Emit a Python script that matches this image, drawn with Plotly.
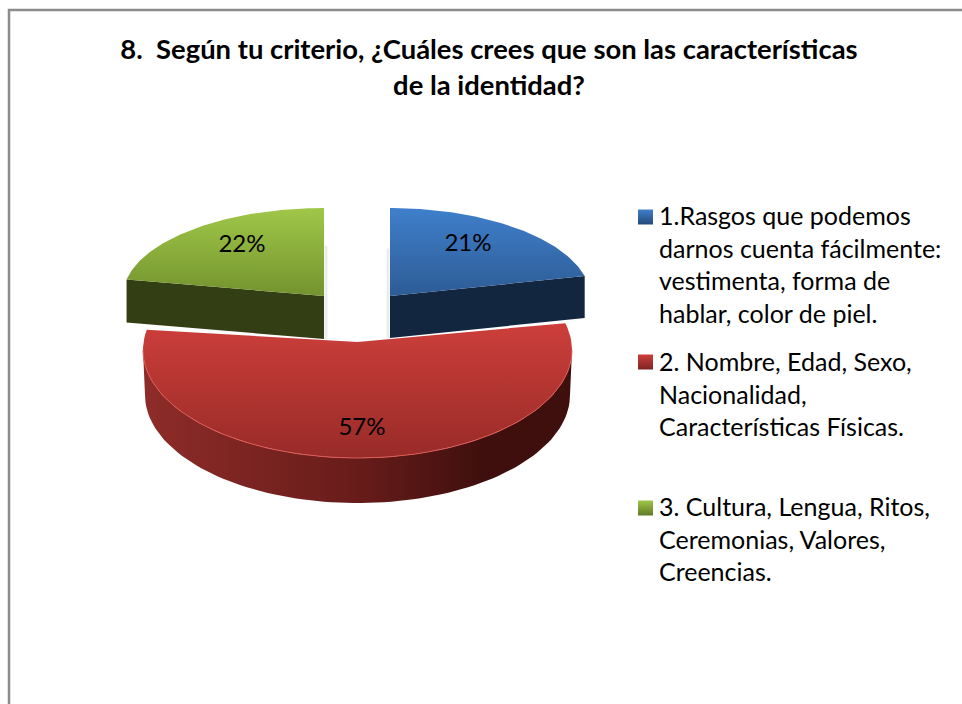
import numpy as np
import plotly.graph_objects as go

W = 962
H = 704
FONT = "Lato"

title_text = "8.  Según tu criterio, ¿Cuáles crees que son las características<br>de la identidad?"
categories = [
    "1.Rasgos que podemos<br>darnos cuenta fácilmente:<br>vestimenta, forma de<br>hablar, color de piel.",
    "2. Nombre, Edad, Sexo,<br>Nacionalidad,<br>Características Físicas.",
    "3. Cultura, Lengua, Ritos,<br>Ceremonias, Valores,<br>Creencias.",
]
values = [21, 57, 22]

# pixel geometry of each exploded slice (top face ellipse, apex, thickness)
ell_cx = [390, 357.5, 324]
ell_cy = [298.5, 350, 296]
ell_a = [201, 214.5, 201]
ell_b = [90.5, 108, 88]
apex_x = [390, 357.5, 324]
apex_y = [296, 342, 296]
depth = [42, 42, 43]

top_colors = [("#3f7fcb", "#2d5c96"), ("#ce3f3b", "#982b28"), ("#a0c748", "#73932e")]
side_colors = ["#132640", "#000000", "#343e14"]
wall_colors = ["#8e2c29", "#681c1a", "#3e0f0d"]
rim_color = "#dc5a55"
label_pos = [(468, 245), (362, 429), (242, 246)]
swatch_y = [217, 362, 508]
swatch_dark = ["#24497a", "#7d2321", "#5f7a26"]
legend_y = [199, 345, 490]

# slice angles, clockwise from 12 o'clock
total = sum(values)
ends = np.cumsum(values) / total * 2 * np.pi
starts = np.concatenate([[0], ends[:-1]])


def arc(i, t0, t1, dy=0.0, a=None, b=None):
    t = np.linspace(t0, t1, 90)
    a = ell_a[i] if a is None else a
    b = ell_b[i] if b is None else b
    return ell_cx[i] + a * np.sin(t), ell_cy[i] + dy - b * np.cos(t)


def vgrad(c0, c1, y0, y1):
    return dict(type="vertical", colorscale=[[0, c0], [1, c1]], start=y0, stop=y1)


def poly(x, y, **kw):
    return go.Scatter(x=x, y=y, mode="lines", fill="toself", line=dict(width=0),
                      hoverinfo="skip", showlegend=False, **kw)


fig = go.Figure()

# red slice: outer wall then top face
x1, y1 = arc(1, np.pi / 2, 3 * np.pi / 2)
x2, y2 = arc(1, np.pi / 2, 3 * np.pi / 2, dy=depth[1] + 3, a=ell_a[1] - 2, b=ell_b[1])
fig.add_trace(poly(np.r_[x1, x2[::-1]], np.r_[y1, y2[::-1]],
                   fillgradient=dict(type="horizontal",
                                     colorscale=[[0, wall_colors[0]], [0.5, wall_colors[1]], [0.8, wall_colors[2]], [1, wall_colors[2]]],
                                     start=143, stop=572)))
x, y = arc(1, starts[1], ends[1])
fig.add_trace(poly(np.r_[apex_x[1], x, apex_x[1]], np.r_[apex_y[1], y, apex_y[1]],
                   fillgradient=vgrad(top_colors[1][0], top_colors[1][1], 320, 458)))
x, y = arc(1, np.pi / 2, 3 * np.pi / 2)
fig.add_trace(go.Scatter(x=x, y=y, mode="lines", line=dict(color=rim_color, width=1),
                         hoverinfo="skip", showlegend=False))

# blue and green slices: soft shadow, cut face, top face
for i, edge, side in [(0, ends[0], -1), (2, starts[2], 1)]:
    fig.add_trace(go.Scatter(x=[apex_x[i] + side * 2] * 2, y=[ell_cy[i] - 50, apex_y[i] + depth[i]],
                             mode="lines", line=dict(color="#ececec", width=3),
                             hoverinfo="skip", showlegend=False))
    ex, ey = arc(i, edge, edge)
    fig.add_trace(poly([apex_x[i], ex[0], ex[0], apex_x[i], apex_x[i]],
                       [apex_y[i], ey[0], ey[0] + depth[i], apex_y[i] + depth[i], apex_y[i]],
                       fillcolor=side_colors[i]))
    x, y = arc(i, starts[i], ends[i])
    fig.add_trace(poly(np.r_[apex_x[i], x, apex_x[i]], np.r_[apex_y[i], y, apex_y[i]],
                       fillgradient=vgrad(top_colors[i][0], top_colors[i][1], 208, 296)))

# percent labels
fig.add_trace(go.Scatter(x=[p[0] for p in label_pos], y=[p[1] for p in label_pos],
                         mode="text", text=[f"{v}%" for v in values],
                         textfont=dict(family=FONT, size=24, color="#000000"),
                         hoverinfo="skip", showlegend=False))

# legend swatches
for i in range(3):
    fig.add_trace(go.Scatter(x=[645.5], y=[swatch_y[i]], mode="markers", hoverinfo="skip", showlegend=False,
                             marker=dict(symbol="square", size=15, color=top_colors[i][0],
                                         gradient=dict(type="vertical", color=swatch_dark[i]),
                                         line=dict(width=0))))
    fig.add_annotation(x=658, y=legend_y[i], xref="x", yref="y", xanchor="left", yanchor="top",
                       align="left", showarrow=False, text=categories[i],
                       font=dict(family=FONT, size=25, color="#000000"), borderpad=0)

# chart frame, runs off the right and bottom of the picture
fig.add_shape(type="rect", x0=9, y0=10, x1=W + 20, y1=H + 20, xref="x", yref="y",
              line=dict(color="#8c8c8c", width=2.5), layer="below")

fig.update_xaxes(range=[0, W], visible=False, domain=[0, 1])
fig.update_yaxes(range=[H, 0], visible=False, domain=[0, 1])
fig.update_layout(
    width=W, height=H,
    margin=dict(l=0, r=0, t=0, b=0),
    paper_bgcolor="#ffffff", plot_bgcolor="#ffffff",
    title=dict(text=title_text, x=489 / W, xanchor="center", xref="paper",
               y=1 - 59 / H, yanchor="top", yref="container",
               font=dict(family=FONT, size=27.4, color="#000000", weight="bold")),
)

fig.write_html("out.html", config=dict(displayModeBar=False),
               post_script="document.body.style.margin='0';")
